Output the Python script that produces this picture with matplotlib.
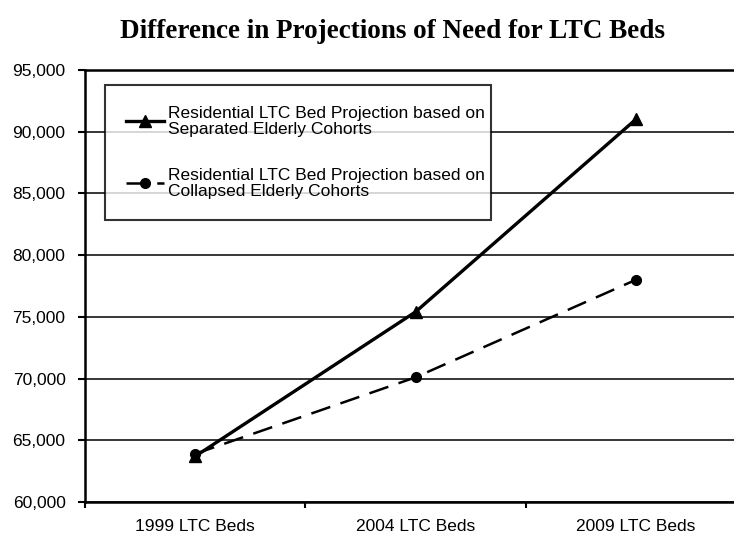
import matplotlib
matplotlib.use("Agg")
import matplotlib.pyplot as plt
from matplotlib.ticker import FuncFormatter, FixedLocator

categories = ["1999 LTC Beds", "2004 LTC Beds", "2009 LTC Beds"]
separated = [63700, 75400, 91000]
collapsed = [63900, 70100, 78000]
series_labels = ["Residential LTC Bed Projection based on\nSeparated Elderly Cohorts",
                 "Residential LTC Bed Projection based on\nCollapsed Elderly Cohorts"]
title = "Difference in Projections of Need for LTC Beds"
yticks = [60000, 65000, 70000, 75000, 80000, 85000, 90000, 95000]

W, H = 734, 541
fig = plt.figure(figsize=(W / 100, H / 100), dpi=100)
plt.rcParams['font.family'] = ['Liberation Sans', 'DejaVu Sans']

x0, x1, yt, yb = 85, 746, 70, 502
ax = fig.add_axes([x0 / W, (H - yb) / H, (x1 - x0) / W, (yb - yt) / H])

xs = list(range(len(categories)))
ax.plot(xs, separated, color='black', lw=2.4, marker='^', markersize=8,
        label=series_labels[0], clip_on=False, zorder=3)
ax.plot(xs, collapsed, color='black', lw=1.8, marker='o', markersize=7,
        dashes=(8, 4.3), label=series_labels[1], clip_on=False, zorder=3)

ax.set_xlim(-0.5, 2.5)
ax.set_ylim(60000, 95000)
ax.set_yticks(yticks)
ax.yaxis.set_major_formatter(FuncFormatter(lambda v, p: f"{int(v):,}"))
ax.yaxis.grid(True, color='black', lw=1.1)
ax.set_axisbelow(True)

ax.xaxis.set_major_locator(FixedLocator([-0.5, 0.5, 1.5, 2.5]))
ax.xaxis.set_major_formatter(FuncFormatter(lambda v, p: ""))
ax.xaxis.set_minor_locator(FixedLocator(xs))
ax.set_xticklabels(categories, minor=True)
ax.tick_params(axis='x', which='minor', length=0, pad=12, labelsize=12.5)
ax.tick_params(axis='x', which='major', direction='out', length=4, width=1.5)
ax.tick_params(axis='y', direction='out', length=5, width=1.5, pad=9, labelsize=12.5)

for s in ['left', 'top', 'bottom']:
    ax.spines[s].set_linewidth(1.8)
ax.spines['right'].set_visible(False)

fig.text(392 / W, (H - 32) / H, title, ha='center', va='center',
         fontsize=19.5, fontweight='bold', family='Liberation Serif')

leg = ax.legend(loc='upper left',
                bbox_to_anchor=(105 / W, (H - 85) / H - 0.01, (491 - 105) / W, 0.01),
                bbox_transform=fig.transFigure, mode='expand',
                frameon=True, fancybox=False, edgecolor='black',
                fontsize=12.5, handlelength=2.2, handletextpad=0.2,
                labelspacing=1.75, borderpad=1.2, borderaxespad=0)
leg.get_frame().set_linewidth(1.5)
for t in leg.get_texts():
    t.set_linespacing(1.12)

fig.savefig("out.png", dpi=100)
